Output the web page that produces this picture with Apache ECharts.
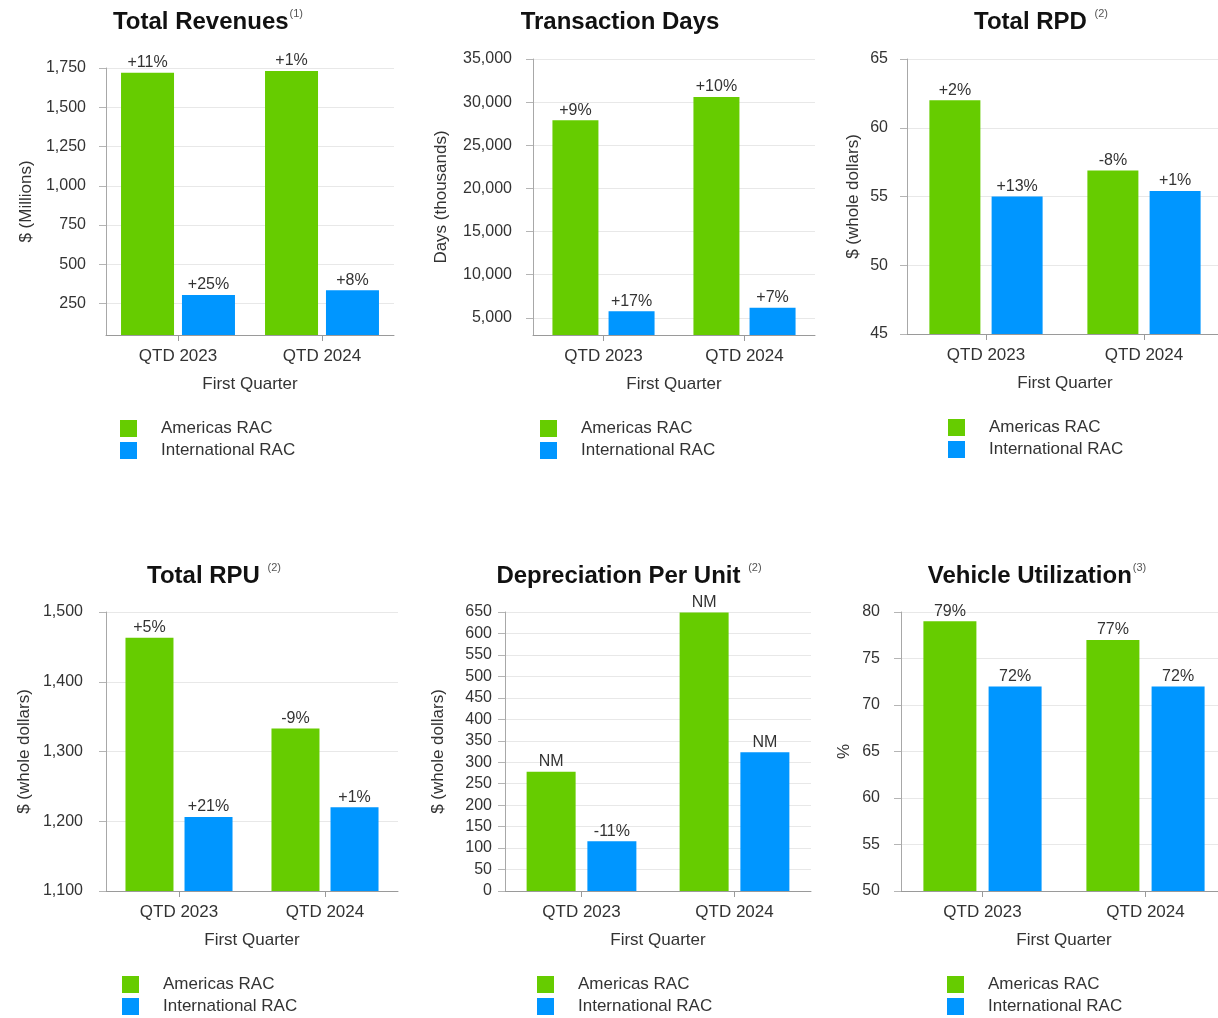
<!DOCTYPE html>
<html>
<head>
<meta charset="utf-8">
<title>Segment KPIs – First Quarter</title>
<script src="https://cdn.jsdelivr.net/npm/echarts@6/dist/echarts.min.js"></script>
<style>
  html, body { margin: 0; padding: 0; background: #ffffff; overflow: hidden; }
  #main { width: 1218px; height: 1018px; }
</style>
</head>
<body>
<div id="main"></div>
<script>
// ---- Data ----
const quarters = ['QTD 2023', 'QTD 2024'];
const seriesNames = ['Americas RAC', 'International RAC'];

const revenueAmericas = [1720, 1731];
const revenueInternational = [305, 335];
const revenueChangeAmericas = ['+11%', '+1%'];
const revenueChangeInternational = ['+25%', '+8%'];
const revenueTicks = [250, 500, 750, 1000, 1250, 1500, 1750];

const daysAmericas = [27900, 30600];
const daysInternational = [5750, 6150];
const daysChangeAmericas = ['+9%', '+10%'];
const daysChangeInternational = ['+17%', '+7%'];
const daysTicks = [5000, 10000, 15000, 20000, 25000, 30000, 35000];

const rpdAmericas = [62.0, 56.9];
const rpdInternational = [55.0, 55.4];
const rpdChangeAmericas = ['+2%', '-8%'];
const rpdChangeInternational = ['+13%', '+1%'];
const rpdTicks = [45, 50, 55, 60, 65];

const rpuAmericas = [1463, 1333];
const rpuInternational = [1206, 1220];
const rpuChangeAmericas = ['+5%', '-9%'];
const rpuChangeInternational = ['+21%', '+1%'];
const rpuTicks = [1100, 1200, 1300, 1400, 1500];

const dpuAmericas = [278, 649];
const dpuInternational = [116, 323];
const dpuChangeAmericas = ['NM', 'NM'];
const dpuChangeInternational = ['-11%', 'NM'];
const dpuTicks = [0, 50, 100, 150, 200, 250, 300, 350, 400, 450, 500, 550, 600, 650];

const utilAmericas = [79, 77];
const utilInternational = [72, 72];
const utilTicks = [50, 55, 60, 65, 70, 75, 80];

// ---- Styling ----
const FONT = '"Liberation Sans", Arial, Helvetica, sans-serif';
const GREEN = '#66cc00';
const BLUE = '#0096ff';
const TEXT = '#333333';

// One panel per small chart: data references plus its placement on the page.
const panels = [
  { title: 'Total Revenues', note: '(1)', gap: '', yName: '$ (Millions)',
    min: 50, max: 1750, ticks: revenueTicks,
    am: revenueAmericas, intl: revenueInternational,
    amLabel: revenueChangeAmericas, intlLabel: revenueChangeInternational,
    box: { left: 106, top: 68, width: 288, height: 267 },
    titleX: 208, titleY: 22, nameGap: 71, labelMargin: 20,
    barWidth: 53, barGap: '15%', legend: { left: 120, top: 420 } },
  { title: 'Transaction Days', note: '', gap: '', yName: 'Days (thousands)',
    min: 3000, max: 35000, ticks: daysTicks,
    am: daysAmericas, intl: daysInternational,
    amLabel: daysChangeAmericas, intlLabel: daysChangeInternational,
    box: { left: 533, top: 59, width: 282, height: 276 },
    titleX: 620, titleY: 22, nameGap: 83, labelMargin: 21,
    barWidth: 46, barGap: '22%', legend: { left: 540, top: 420 } },
  { title: 'Total RPD', note: '(2)', gap: ' ', yName: '$ (whole dollars)',
    min: 45, max: 65, ticks: rpdTicks,
    am: rpdAmericas, intl: rpdInternational,
    amLabel: rpdChangeAmericas, intlLabel: rpdChangeInternational,
    box: { left: 907, top: 59, width: 316, height: 275 },
    titleX: 1041, titleY: 22, nameGap: 45, labelMargin: 19,
    barWidth: 51, barGap: '22%', legend: { left: 948, top: 419 } },
  { title: 'Total RPU', note: '(2)', gap: ' ', yName: '$ (whole dollars)',
    min: 1100, max: 1500, ticks: rpuTicks,
    am: rpuAmericas, intl: rpuInternational,
    amLabel: rpuChangeAmericas, intlLabel: rpuChangeInternational,
    box: { left: 106, top: 612, width: 292, height: 279 },
    titleX: 214, titleY: 576, nameGap: 73, labelMargin: 23,
    barWidth: 48, barGap: '23%', legend: { left: 122, top: 976 } },
  { title: 'Depreciation Per Unit', note: '(2)', gap: ' ', yName: '$ (whole dollars)',
    min: 0, max: 650, ticks: dpuTicks,
    am: dpuAmericas, intl: dpuInternational,
    amLabel: dpuChangeAmericas, intlLabel: dpuChangeInternational,
    box: { left: 505, top: 612, width: 306, height: 279 },
    titleX: 629, titleY: 576, nameGap: 58, labelMargin: 13,
    barWidth: 49, barGap: '24%', legend: { left: 537, top: 976 } },
  { title: 'Vehicle Utilization', note: '(3)', gap: '', yName: '%',
    min: 50, max: 80, ticks: utilTicks,
    am: utilAmericas, intl: utilInternational,
    amLabel: utilAmericas.map(v => v + '%'), intlLabel: utilInternational.map(v => v + '%'),
    box: { left: 901, top: 612, width: 326, height: 279 },
    titleX: 1037, titleY: 576, nameGap: 48, labelMargin: 21,
    barWidth: 53, barGap: '23%', legend: { left: 947, top: 976 } }
];

const grid = [], xAxis = [], yAxis = [], series = [], legend = [], graphic = [];

panels.forEach((p, i) => {
  grid.push(Object.assign({ containLabel: false, outerBoundsMode: 'none' }, p.box));

  xAxis.push({
    type: 'category', gridIndex: i, data: quarters,
    name: 'First Quarter', nameLocation: 'middle', nameGap: 41,
    nameTextStyle: { fontFamily: FONT, fontSize: 17, color: TEXT },
    axisLine: { lineStyle: { color: '#9a9a9a', width: 1 } },
    axisTick: { show: true, alignWithLabel: true, length: 6, lineStyle: { color: '#9a9a9a' } },
    axisLabel: { fontFamily: FONT, fontSize: 17, color: TEXT, margin: 13 },
    splitLine: { show: false }
  });

  yAxis.push({
    type: 'value', gridIndex: i, min: p.min, max: p.max,
    name: p.yName, nameLocation: 'middle', nameGap: p.nameGap,
    nameTextStyle: { fontFamily: FONT, fontSize: 17, color: TEXT },
    axisLine: { show: true, lineStyle: { color: '#a8a8a8', width: 1 } },
    axisTick: { show: true, length: 7, customValues: p.ticks, lineStyle: { color: '#b5b5b5' } },
    axisLabel: { fontFamily: FONT, fontSize: 16, color: TEXT, margin: p.labelMargin, customValues: p.ticks },
    splitLine: { show: true, lineStyle: { color: '#e8e8e8', width: 1 } }
  });

  const label = (texts) => ({
    show: true, position: 'top', distance: 2,
    fontFamily: FONT, fontSize: 16, color: TEXT,
    formatter: (d) => texts[d.dataIndex]
  });

  series.push({
    name: seriesNames[0], type: 'bar', xAxisIndex: i, yAxisIndex: i,
    data: p.am, barWidth: p.barWidth, barGap: p.barGap,
    itemStyle: { color: GREEN }, label: label(p.amLabel), emphasis: { disabled: true }
  });
  series.push({
    name: seriesNames[1], type: 'bar', xAxisIndex: i, yAxisIndex: i,
    data: p.intl, barWidth: p.barWidth, barGap: p.barGap,
    itemStyle: { color: BLUE }, label: label(p.intlLabel), emphasis: { disabled: true }
  });

  legend.push({
    orient: 'vertical', left: p.legend.left, top: p.legend.top, padding: 0,
    itemWidth: 17, itemHeight: 17, itemGap: 5, icon: 'rect',
    selectedMode: false, data: seriesNames,
    textStyle: { fontFamily: FONT, fontSize: 17, color: TEXT, padding: [0, 0, 0, 19] }
  });

  graphic.push({
    type: 'text', x: p.titleX, y: p.titleY, silent: true,
    style: {
      text: '{t|' + p.title + p.gap + '}' + (p.note ? '{s|' + p.note + '}' : ''),
      align: 'center', verticalAlign: 'middle',
      rich: {
        t: { fontFamily: FONT, fontSize: 24, fontWeight: 'bold', fill: '#111111', lineHeight: 28 },
        s: { fontFamily: FONT, fontSize: 11, fill: '#555555', verticalAlign: 'top', padding: [0, 0, 0, 1] }
      }
    }
  });
});

const chart = echarts.init(document.getElementById('main'), null, { renderer: 'canvas' });
chart.setOption({
  animation: false,
  backgroundColor: '#ffffff',
  textStyle: { fontFamily: FONT },
  grid, xAxis, yAxis, series, legend, graphic
});
</script>
</body>
</html>
